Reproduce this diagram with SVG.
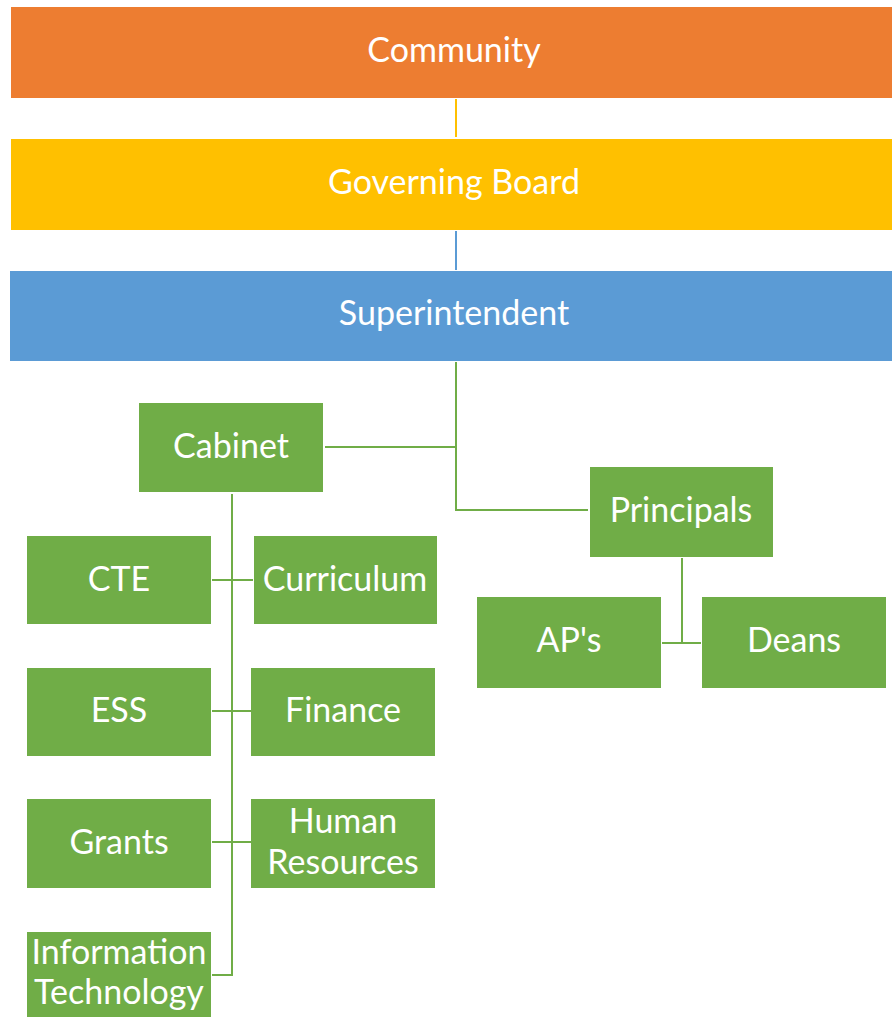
<svg xmlns="http://www.w3.org/2000/svg" width="892" height="1017" viewBox="0 0 892 1017">
<style>
.t{font-family:Lato,"Open Sans","Liberation Sans",sans-serif;font-size:34px;fill:#ffffff;text-anchor:middle}
.g{fill:#70AD47}
.c{fill:none;stroke-width:2}
.cg{stroke:#70AD47}
</style>
<rect width="892" height="1017" fill="#ffffff"/>
<g id="connectors">
<line class="c" x1="456" y1="99" x2="456" y2="137" stroke="#FFC000"/>
<line class="c" x1="456" y1="231" x2="456" y2="270" stroke="#5B9BD5"/>
<polyline class="c cg" points="456,362 456,510 588,510"/>
<line class="c cg" x1="325" y1="447" x2="456" y2="447"/>
<polyline class="c cg" points="232,494 232,975 212,975"/>
<line class="c cg" x1="212" y1="580" x2="253" y2="580"/>
<line class="c cg" x1="212" y1="711" x2="251" y2="711"/>
<line class="c cg" x1="212" y1="842" x2="251" y2="842"/>
<line class="c cg" x1="682" y1="558" x2="682" y2="643"/>
<line class="c cg" x1="662" y1="643" x2="701" y2="643"/>
</g>
<g id="community"><rect x="11" y="7" width="881" height="91" fill="#ED7D31"/><text class="t" x="454" y="62">Community</text></g>
<g id="governing-board"><rect x="11" y="139" width="881" height="91" fill="#FFC000"/><text class="t" x="454" y="194">Governing Board</text></g>
<g id="superintendent"><rect x="10" y="271" width="882" height="90" fill="#5B9BD5"/><text class="t" x="454" y="325">Superintendent</text></g>
<g id="cabinet"><rect class="g" x="139" y="403" width="184" height="89"/><text class="t" x="231" y="458">Cabinet</text></g>
<g id="principals"><rect class="g" x="590" y="467" width="183" height="90"/><text class="t" x="681" y="522">Principals</text></g>
<g id="aps"><rect class="g" x="477" y="597" width="184" height="91"/><text class="t" x="569" y="652">AP's</text></g>
<g id="deans"><rect class="g" x="702" y="597" width="184" height="91"/><text class="t" x="794" y="652">Deans</text></g>
<g id="cte"><rect class="g" x="27" y="536" width="184" height="88"/><text class="t" x="119" y="591">CTE</text></g>
<g id="curriculum"><rect class="g" x="254" y="536" width="183" height="88"/><text class="t" x="345" y="591">Curriculum</text></g>
<g id="ess"><rect class="g" x="27" y="668" width="184" height="88"/><text class="t" x="119" y="722">ESS</text></g>
<g id="finance"><rect class="g" x="251" y="668" width="184" height="88"/><text class="t" x="343" y="722">Finance</text></g>
<g id="grants"><rect class="g" x="27" y="799" width="184" height="89"/><text class="t" x="119" y="854">Grants</text></g>
<g id="human-resources"><rect class="g" x="251" y="799" width="184" height="89"/><text class="t" x="343" y="833">Human</text><text class="t" x="343" y="874">Resources</text></g>
<g id="information-technology"><rect class="g" x="27" y="932" width="184" height="90"/><text class="t" x="119" y="964">Information</text><text class="t" x="119" y="1004">Technology</text></g>
</svg>
